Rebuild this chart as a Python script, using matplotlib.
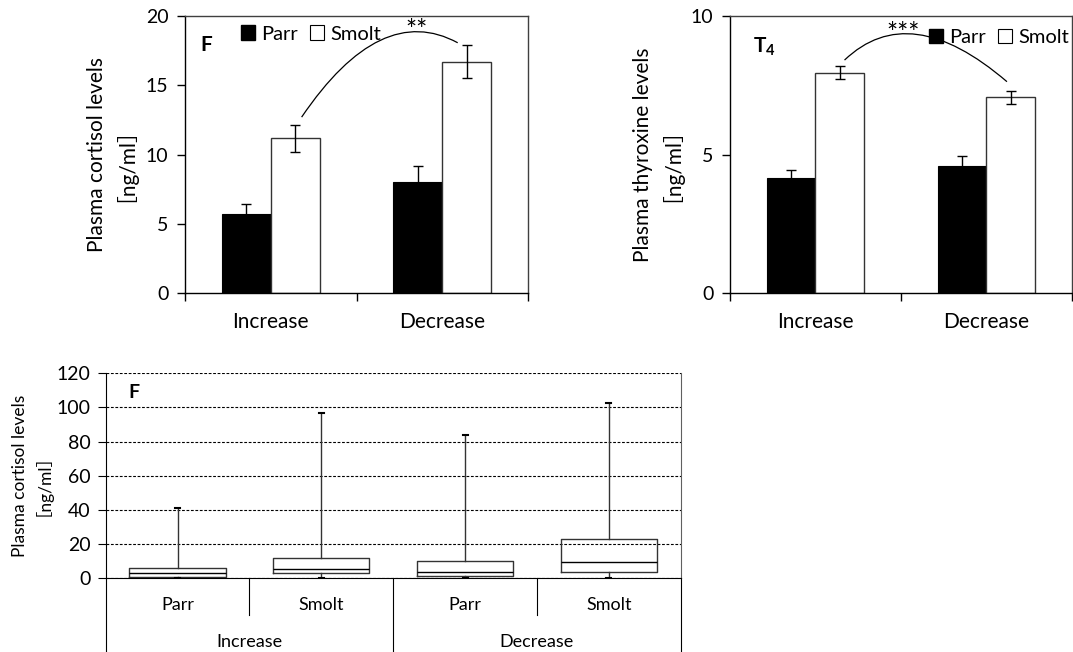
import matplotlib
matplotlib.use("Agg")
import matplotlib.pyplot as plt
import numpy as np
from matplotlib.patches import Patch, PathPatch
from matplotlib.path import Path

plt.rcParams['font.family'] = ['Lato', 'Noto Sans CJK JP', 'DejaVu Sans']
plt.rcParams['mathtext.fontset'] = 'custom'
plt.rcParams['mathtext.rm'] = 'Lato'
plt.rcParams['mathtext.bf'] = 'Lato:bold'

groups = ['Increase', 'Decrease']
stages = ['Parr', 'Smolt']

# panel F: plasma cortisol, mean +/- SE
cortisol_parr = [5.73, 8.02]
cortisol_parr_err = [0.68, 1.14]
cortisol_smolt = [11.16, 16.7]
cortisol_smolt_err = [0.96, 1.2]

# panel T4: plasma thyroxine
thyroxine_parr = [4.17, 4.58]
thyroxine_parr_err = [0.27, 0.36]
thyroxine_smolt = [7.96, 7.07]
thyroxine_smolt_err = [0.23, 0.24]

# box plot of cortisol
box_stage = ['Parr', 'Smolt', 'Parr', 'Smolt']
box_group = ['Increase', 'Increase', 'Decrease', 'Decrease']
box_q1 = [0.6, 2.9, 1.2, 3.5]
box_med = [3.3, 5.5, 3.7, 9.8]
box_q3 = [6.05, 12.1, 10.3, 22.8]
box_lo = [0.1, 0.0, 0.1, 0.0]
box_hi = [41.0, 96.6, 84.1, 102.8]

# significance arcs: start, control, end (data coords) and star label
arc_f = [(0.18, 12.7), (0.64, 21.1), (1.09, 18.07)]
star_f = (0.85, 18.85, '**')
arc_t4 = [(0.17, 8.41), (0.55, 10.65), (1.12, 7.63)]
star_t4 = (0.51, 9.32, '***')

bar_w = 0.286
fs = 14


def bar_panel(ax, parr, parr_err, smolt, smolt_err, ymax, step, ylabel, label_x, tag,
              legend_x, legend_y, arc, star):
    x = np.arange(len(groups))
    ax.bar(x - bar_w / 2, parr, bar_w, color='black', edgecolor='black', lw=0.8, zorder=2)
    ax.bar(x + bar_w / 2, smolt, bar_w, color='white', edgecolor='#333333', lw=1, zorder=2)
    ax.errorbar(x - bar_w / 2, parr, yerr=parr_err, fmt='none', ecolor='black',
                elinewidth=1, capsize=3.6, capthick=1, zorder=3)
    ax.errorbar(x + bar_w / 2, smolt, yerr=smolt_err, fmt='none', ecolor='black',
                elinewidth=1, capsize=3.6, capthick=1, zorder=3)

    ax.set_xlim(-0.5, len(groups) - 0.5)
    ax.set_ylim(0, ymax)
    ax.set_yticks(np.arange(0, ymax + 0.1, step))
    ax.set_xticks(np.arange(len(groups) + 1) - 0.5)
    ax.set_xticklabels([])
    ax.set_xticks(x, minor=True)
    ax.set_xticklabels(groups, minor=True)
    ax.tick_params(axis='x', which='major', direction='out', length=6, width=1)
    ax.tick_params(axis='x', which='minor', length=0, pad=14, labelsize=fs + 1)
    ax.tick_params(axis='y', direction='out', length=6, width=1, pad=6, labelsize=fs)
    for s in ['top', 'right']:
        ax.spines[s].set_color('#404040')
    for s in ax.spines.values():
        s.set_linewidth(1)
    ax.set_ylabel(ylabel, fontsize=fs + 1, linespacing=0.8)
    ax.yaxis.set_label_coords(label_x, 0.5)

    ax.text(tag[0], tag[1], tag[2], transform=ax.transAxes, fontsize=fs + 1,
            fontweight='bold', ha='left', va='top')

    handles = [Patch(facecolor='black', edgecolor='black'),
               Patch(facecolor='white', edgecolor='black', lw=0.8)]
    ax.legend(handles, stages, ncol=2, frameon=False, loc='center left',
              bbox_to_anchor=(legend_x, legend_y), borderpad=0, borderaxespad=0,
              handlelength=0.7, handleheight=0.7, handletextpad=0.3,
              columnspacing=0.6, fontsize=fs + 0.5)

    path = Path(arc, [Path.MOVETO, Path.CURVE3, Path.CURVE3])
    ax.add_patch(PathPatch(path, facecolor='none', edgecolor='black', lw=0.9, clip_on=False, zorder=4))
    ax.text(star[0], star[1], star[2], ha='center', va='center', fontsize=fs + 5)


fig = plt.figure(figsize=(10.73, 6.52), dpi=100)

ax1 = fig.add_axes([0.1724, 0.5506, 0.3197, 0.4248])
bar_panel(ax1, cortisol_parr, cortisol_parr_err, cortisol_smolt, cortisol_smolt_err,
          20, 5, 'Plasma cortisol levels\n［ng/ml］', -0.175, (0.044, 0.93, 'F'),
          0.163, 0.935, arc_f, star_f)

ax2 = fig.add_axes([0.6803, 0.5506, 0.3187, 0.4248])
bar_panel(ax2, thyroxine_parr, thyroxine_parr_err, thyroxine_smolt, thyroxine_smolt_err,
          10, 5, 'Plasma thyroxine levels\n［ng/ml］', -0.172, (0.067, 0.93, r'$\mathbf{T_4}$'),
          0.582, 0.924, arc_t4, star_t4)

# box plot panel
ax3 = fig.add_axes([0.0985, 0.113, 0.5359, 0.3145])
pos = np.arange(len(box_stage))
stats = []
for i in range(len(pos)):
    stats.append(dict(med=box_med[i], q1=box_q1[i], q3=box_q3[i],
                      whislo=box_lo[i], whishi=box_hi[i], label=box_stage[i]))
ax3.bxp(stats, positions=pos, widths=0.67, showfliers=False, capwidths=0.035,
        boxprops=dict(color='#333333', lw=1), medianprops=dict(color='black', lw=1),
        whiskerprops=dict(color='#333333', lw=1), capprops=dict(color='black', lw=1.5))
ax3.set_xlim(-0.5, len(pos) - 0.5)
ax3.set_ylim(0, 120)
ax3.set_yticks(np.arange(0, 121, 20))
ax3.yaxis.grid(True, linestyle=(0, (2.5, 1.5)), color='black', lw=0.8)
ax3.set_axisbelow(True)
ax3.set_xticks([])
ax3.spines['top'].set_visible(False)
ax3.spines['right'].set_color('#606060')
ax3.tick_params(axis='y', direction='out', length=6, pad=5, labelsize=fs)
ax3.set_ylabel('Plasma cortisol levels\n［ng/ml］', fontsize=fs - 1.5, linespacing=0.75)
ax3.yaxis.set_label_coords(-0.110, 0.5)
ax3.text(0.039, 0.95, 'F', transform=ax3.transAxes, fontsize=fs, fontweight='bold', ha='left', va='top')

tr = ax3.get_xaxis_transform()
for i in range(len(pos)):
    ax3.text(pos[i], -0.13, box_stage[i], transform=tr, ha='center', va='center', fontsize=fs - 1)
    if i > 0 and box_group[i] == box_group[i - 1]:
        ax3.plot([pos[i] - 0.5, pos[i] - 0.5], [0, -0.18], transform=tr, color='black', lw=0.8, clip_on=False)
edges = [-0.5]
for i in range(1, len(pos)):
    if box_group[i] != box_group[i - 1]:
        edges.append(pos[i] - 0.5)
edges.append(len(pos) - 0.5)
for e in edges:
    ax3.plot([e, e], [0, -0.37], transform=tr, color='black', lw=0.8, clip_on=False)
for g in dict.fromkeys(box_group):
    gx = np.mean([pos[i] for i in range(len(pos)) if box_group[i] == g])
    ax3.text(gx, -0.309, g, transform=tr, ha='center', va='center', fontsize=fs - 1)

fig.savefig('out.png', dpi=100)
